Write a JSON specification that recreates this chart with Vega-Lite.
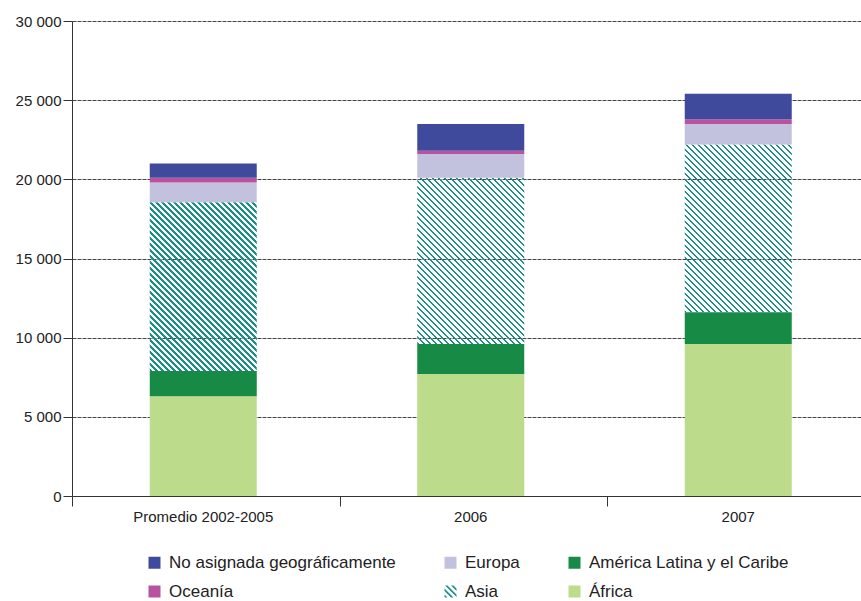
{
"$schema": "https://vega.github.io/schema/vega-lite/v6.json",
"width": 789,
"height": 475,
"autosize": {"type": "none"},
"padding": {"left": 72, "top": 21, "right": 0, "bottom": 105},
"background": "white",
"config": {"view": {"stroke": null}, "font": "Liberation Sans"},
"data": {"values": [
{"periodo": "Promedio 2002-2005", "region": "África", "valor": 6300},
{"periodo": "Promedio 2002-2005", "region": "América Latina y el Caribe", "valor": 1600},
{"periodo": "Promedio 2002-2005", "region": "Asia", "valor": 10650},
{"periodo": "Promedio 2002-2005", "region": "Europa", "valor": 1250},
{"periodo": "Promedio 2002-2005", "region": "Oceanía", "valor": 300},
{"periodo": "Promedio 2002-2005", "region": "No asignada geográficamente", "valor": 900},
{"periodo": "2006", "region": "África", "valor": 7700},
{"periodo": "2006", "region": "América Latina y el Caribe", "valor": 1900},
{"periodo": "2006", "region": "Asia", "valor": 10500},
{"periodo": "2006", "region": "Europa", "valor": 1500},
{"periodo": "2006", "region": "Oceanía", "valor": 200},
{"periodo": "2006", "region": "No asignada geográficamente", "valor": 1700},
{"periodo": "2007", "region": "África", "valor": 9600},
{"periodo": "2007", "region": "América Latina y el Caribe", "valor": 2000},
{"periodo": "2007", "region": "Asia", "valor": 10600},
{"periodo": "2007", "region": "Europa", "valor": 1300},
{"periodo": "2007", "region": "Oceanía", "valor": 300},
{"periodo": "2007", "region": "No asignada geográficamente", "valor": 1600}
]},
"transform": [{"calculate": "indexof(['África','América Latina y el Caribe','Asia','Europa','Oceanía','No asignada geográficamente'], datum.region)", "as": "orden"}],
"encoding": {
"x": {"field": "periodo", "type": "nominal", "sort": ["Promedio 2002-2005", "2006", "2007"],
 "scale": {"range": [0, 802.5], "paddingInner": 0, "paddingOuter": 0},
 "axis": {"title": null, "labelAngle": 0, "tickBand": "extent", "domainColor": "#333", "tickColor": "#333", "tickSize": 10, "labelFontSize": 15, "labelColor": "#222", "labelPadding": 3, "labelOffset": -3, "grid": false}},
"y": {"field": "valor", "type": "quantitative", "stack": "zero",
 "scale": {"domain": [0, 30000], "nice": false},
 "axis": {"title": null, "values": [0, 5000, 10000, 15000, 20000, 25000, 30000], "labelExpr": "replace(format(datum.value, ',d'), ',', ' ')", "grid": true, "gridColor": "#444", "gridDash": [4, 1], "tickSize": 9, "labelPadding": 2, "domainColor": "#333", "tickColor": "#333", "labelFontSize": 15, "labelColor": "#222"}},
"color": {"field": "region", "type": "nominal",
 "scale": {"domain": ["No asignada geográficamente", "Oceanía", "Europa", "Asia", "América Latina y el Caribe", "África"],
  "range": ["#3f4a9d", "#b9529f", "#c2c2df", "#1d8f8a", "#178a45", "#bcdb8b"]},
 "condition": [
 {"test": "datum.region === 'Asia' && datum.periodo === 'Promedio 2002-2005'", "value": {"gradient": "linear", "x1": 0, "y1": 1, "x2": 0.82094, "y2": -0.29375, "stops": [
{"offset":0,"color":"#1d8f8a"},{"offset":0.007843,"color":"#1d8f8a"},{"offset":0.007843,"color":"transparent"},{"offset":0.019608,"color":"transparent"},
{"offset":0.019608,"color":"#1d8f8a"},{"offset":0.027451,"color":"#1d8f8a"},{"offset":0.027451,"color":"transparent"},{"offset":0.039216,"color":"transparent"},
{"offset":0.039216,"color":"#1d8f8a"},{"offset":0.047059,"color":"#1d8f8a"},{"offset":0.047059,"color":"transparent"},{"offset":0.058824,"color":"transparent"},
{"offset":0.058824,"color":"#1d8f8a"},{"offset":0.066667,"color":"#1d8f8a"},{"offset":0.066667,"color":"transparent"},{"offset":0.078431,"color":"transparent"},
{"offset":0.078431,"color":"#1d8f8a"},{"offset":0.086275,"color":"#1d8f8a"},{"offset":0.086275,"color":"transparent"},{"offset":0.098039,"color":"transparent"},
{"offset":0.098039,"color":"#1d8f8a"},{"offset":0.105882,"color":"#1d8f8a"},{"offset":0.105882,"color":"transparent"},{"offset":0.117647,"color":"transparent"},
{"offset":0.117647,"color":"#1d8f8a"},{"offset":0.125490,"color":"#1d8f8a"},{"offset":0.125490,"color":"transparent"},{"offset":0.137255,"color":"transparent"},
{"offset":0.137255,"color":"#1d8f8a"},{"offset":0.145098,"color":"#1d8f8a"},{"offset":0.145098,"color":"transparent"},{"offset":0.156863,"color":"transparent"},
{"offset":0.156863,"color":"#1d8f8a"},{"offset":0.164706,"color":"#1d8f8a"},{"offset":0.164706,"color":"transparent"},{"offset":0.176471,"color":"transparent"},
{"offset":0.176471,"color":"#1d8f8a"},{"offset":0.184314,"color":"#1d8f8a"},{"offset":0.184314,"color":"transparent"},{"offset":0.196078,"color":"transparent"},
{"offset":0.196078,"color":"#1d8f8a"},{"offset":0.203922,"color":"#1d8f8a"},{"offset":0.203922,"color":"transparent"},{"offset":0.215686,"color":"transparent"},
{"offset":0.215686,"color":"#1d8f8a"},{"offset":0.223529,"color":"#1d8f8a"},{"offset":0.223529,"color":"transparent"},{"offset":0.235294,"color":"transparent"},
{"offset":0.235294,"color":"#1d8f8a"},{"offset":0.243137,"color":"#1d8f8a"},{"offset":0.243137,"color":"transparent"},{"offset":0.254902,"color":"transparent"},
{"offset":0.254902,"color":"#1d8f8a"},{"offset":0.262745,"color":"#1d8f8a"},{"offset":0.262745,"color":"transparent"},{"offset":0.274510,"color":"transparent"},
{"offset":0.274510,"color":"#1d8f8a"},{"offset":0.282353,"color":"#1d8f8a"},{"offset":0.282353,"color":"transparent"},{"offset":0.294118,"color":"transparent"},
{"offset":0.294118,"color":"#1d8f8a"},{"offset":0.301961,"color":"#1d8f8a"},{"offset":0.301961,"color":"transparent"},{"offset":0.313725,"color":"transparent"},
{"offset":0.313725,"color":"#1d8f8a"},{"offset":0.321569,"color":"#1d8f8a"},{"offset":0.321569,"color":"transparent"},{"offset":0.333333,"color":"transparent"},
{"offset":0.333333,"color":"#1d8f8a"},{"offset":0.341176,"color":"#1d8f8a"},{"offset":0.341176,"color":"transparent"},{"offset":0.352941,"color":"transparent"},
{"offset":0.352941,"color":"#1d8f8a"},{"offset":0.360784,"color":"#1d8f8a"},{"offset":0.360784,"color":"transparent"},{"offset":0.372549,"color":"transparent"},
{"offset":0.372549,"color":"#1d8f8a"},{"offset":0.380392,"color":"#1d8f8a"},{"offset":0.380392,"color":"transparent"},{"offset":0.392157,"color":"transparent"},
{"offset":0.392157,"color":"#1d8f8a"},{"offset":0.400000,"color":"#1d8f8a"},{"offset":0.400000,"color":"transparent"},{"offset":0.411765,"color":"transparent"},
{"offset":0.411765,"color":"#1d8f8a"},{"offset":0.419608,"color":"#1d8f8a"},{"offset":0.419608,"color":"transparent"},{"offset":0.431373,"color":"transparent"},
{"offset":0.431373,"color":"#1d8f8a"},{"offset":0.439216,"color":"#1d8f8a"},{"offset":0.439216,"color":"transparent"},{"offset":0.450980,"color":"transparent"},
{"offset":0.450980,"color":"#1d8f8a"},{"offset":0.458824,"color":"#1d8f8a"},{"offset":0.458824,"color":"transparent"},{"offset":0.470588,"color":"transparent"},
{"offset":0.470588,"color":"#1d8f8a"},{"offset":0.478431,"color":"#1d8f8a"},{"offset":0.478431,"color":"transparent"},{"offset":0.490196,"color":"transparent"},
{"offset":0.490196,"color":"#1d8f8a"},{"offset":0.498039,"color":"#1d8f8a"},{"offset":0.498039,"color":"transparent"},{"offset":0.509804,"color":"transparent"},
{"offset":0.509804,"color":"#1d8f8a"},{"offset":0.517647,"color":"#1d8f8a"},{"offset":0.517647,"color":"transparent"},{"offset":0.529412,"color":"transparent"},
{"offset":0.529412,"color":"#1d8f8a"},{"offset":0.537255,"color":"#1d8f8a"},{"offset":0.537255,"color":"transparent"},{"offset":0.549020,"color":"transparent"},
{"offset":0.549020,"color":"#1d8f8a"},{"offset":0.556863,"color":"#1d8f8a"},{"offset":0.556863,"color":"transparent"},{"offset":0.568627,"color":"transparent"},
{"offset":0.568627,"color":"#1d8f8a"},{"offset":0.576471,"color":"#1d8f8a"},{"offset":0.576471,"color":"transparent"},{"offset":0.588235,"color":"transparent"},
{"offset":0.588235,"color":"#1d8f8a"},{"offset":0.596078,"color":"#1d8f8a"},{"offset":0.596078,"color":"transparent"},{"offset":0.607843,"color":"transparent"},
{"offset":0.607843,"color":"#1d8f8a"},{"offset":0.615686,"color":"#1d8f8a"},{"offset":0.615686,"color":"transparent"},{"offset":0.627451,"color":"transparent"},
{"offset":0.627451,"color":"#1d8f8a"},{"offset":0.635294,"color":"#1d8f8a"},{"offset":0.635294,"color":"transparent"},{"offset":0.647059,"color":"transparent"},
{"offset":0.647059,"color":"#1d8f8a"},{"offset":0.654902,"color":"#1d8f8a"},{"offset":0.654902,"color":"transparent"},{"offset":0.666667,"color":"transparent"},
{"offset":0.666667,"color":"#1d8f8a"},{"offset":0.674510,"color":"#1d8f8a"},{"offset":0.674510,"color":"transparent"},{"offset":0.686275,"color":"transparent"},
{"offset":0.686275,"color":"#1d8f8a"},{"offset":0.694118,"color":"#1d8f8a"},{"offset":0.694118,"color":"transparent"},{"offset":0.705882,"color":"transparent"},
{"offset":0.705882,"color":"#1d8f8a"},{"offset":0.713725,"color":"#1d8f8a"},{"offset":0.713725,"color":"transparent"},{"offset":0.725490,"color":"transparent"},
{"offset":0.725490,"color":"#1d8f8a"},{"offset":0.733333,"color":"#1d8f8a"},{"offset":0.733333,"color":"transparent"},{"offset":0.745098,"color":"transparent"},
{"offset":0.745098,"color":"#1d8f8a"},{"offset":0.752941,"color":"#1d8f8a"},{"offset":0.752941,"color":"transparent"},{"offset":0.764706,"color":"transparent"},
{"offset":0.764706,"color":"#1d8f8a"},{"offset":0.772549,"color":"#1d8f8a"},{"offset":0.772549,"color":"transparent"},{"offset":0.784314,"color":"transparent"},
{"offset":0.784314,"color":"#1d8f8a"},{"offset":0.792157,"color":"#1d8f8a"},{"offset":0.792157,"color":"transparent"},{"offset":0.803922,"color":"transparent"},
{"offset":0.803922,"color":"#1d8f8a"},{"offset":0.811765,"color":"#1d8f8a"},{"offset":0.811765,"color":"transparent"},{"offset":0.823529,"color":"transparent"},
{"offset":0.823529,"color":"#1d8f8a"},{"offset":0.831373,"color":"#1d8f8a"},{"offset":0.831373,"color":"transparent"},{"offset":0.843137,"color":"transparent"},
{"offset":0.843137,"color":"#1d8f8a"},{"offset":0.850980,"color":"#1d8f8a"},{"offset":0.850980,"color":"transparent"},{"offset":0.862745,"color":"transparent"},
{"offset":0.862745,"color":"#1d8f8a"},{"offset":0.870588,"color":"#1d8f8a"},{"offset":0.870588,"color":"transparent"},{"offset":0.882353,"color":"transparent"},
{"offset":0.882353,"color":"#1d8f8a"},{"offset":0.890196,"color":"#1d8f8a"},{"offset":0.890196,"color":"transparent"},{"offset":0.901961,"color":"transparent"},
{"offset":0.901961,"color":"#1d8f8a"},{"offset":0.909804,"color":"#1d8f8a"},{"offset":0.909804,"color":"transparent"},{"offset":1,"color":"transparent"}
 ]}},
 {"test": "datum.region === 'Asia' && datum.periodo === '2006'", "value": {"gradient": "linear", "x1": 0, "y1": 1, "x2": 0.83765, "y2": -0.30148, "stops": [
{"offset":0,"color":"#1d8f8a"},{"offset":0.007843,"color":"#1d8f8a"},{"offset":0.007843,"color":"transparent"},{"offset":0.019608,"color":"transparent"},
{"offset":0.019608,"color":"#1d8f8a"},{"offset":0.027451,"color":"#1d8f8a"},{"offset":0.027451,"color":"transparent"},{"offset":0.039216,"color":"transparent"},
{"offset":0.039216,"color":"#1d8f8a"},{"offset":0.047059,"color":"#1d8f8a"},{"offset":0.047059,"color":"transparent"},{"offset":0.058824,"color":"transparent"},
{"offset":0.058824,"color":"#1d8f8a"},{"offset":0.066667,"color":"#1d8f8a"},{"offset":0.066667,"color":"transparent"},{"offset":0.078431,"color":"transparent"},
{"offset":0.078431,"color":"#1d8f8a"},{"offset":0.086275,"color":"#1d8f8a"},{"offset":0.086275,"color":"transparent"},{"offset":0.098039,"color":"transparent"},
{"offset":0.098039,"color":"#1d8f8a"},{"offset":0.105882,"color":"#1d8f8a"},{"offset":0.105882,"color":"transparent"},{"offset":0.117647,"color":"transparent"},
{"offset":0.117647,"color":"#1d8f8a"},{"offset":0.125490,"color":"#1d8f8a"},{"offset":0.125490,"color":"transparent"},{"offset":0.137255,"color":"transparent"},
{"offset":0.137255,"color":"#1d8f8a"},{"offset":0.145098,"color":"#1d8f8a"},{"offset":0.145098,"color":"transparent"},{"offset":0.156863,"color":"transparent"},
{"offset":0.156863,"color":"#1d8f8a"},{"offset":0.164706,"color":"#1d8f8a"},{"offset":0.164706,"color":"transparent"},{"offset":0.176471,"color":"transparent"},
{"offset":0.176471,"color":"#1d8f8a"},{"offset":0.184314,"color":"#1d8f8a"},{"offset":0.184314,"color":"transparent"},{"offset":0.196078,"color":"transparent"},
{"offset":0.196078,"color":"#1d8f8a"},{"offset":0.203922,"color":"#1d8f8a"},{"offset":0.203922,"color":"transparent"},{"offset":0.215686,"color":"transparent"},
{"offset":0.215686,"color":"#1d8f8a"},{"offset":0.223529,"color":"#1d8f8a"},{"offset":0.223529,"color":"transparent"},{"offset":0.235294,"color":"transparent"},
{"offset":0.235294,"color":"#1d8f8a"},{"offset":0.243137,"color":"#1d8f8a"},{"offset":0.243137,"color":"transparent"},{"offset":0.254902,"color":"transparent"},
{"offset":0.254902,"color":"#1d8f8a"},{"offset":0.262745,"color":"#1d8f8a"},{"offset":0.262745,"color":"transparent"},{"offset":0.274510,"color":"transparent"},
{"offset":0.274510,"color":"#1d8f8a"},{"offset":0.282353,"color":"#1d8f8a"},{"offset":0.282353,"color":"transparent"},{"offset":0.294118,"color":"transparent"},
{"offset":0.294118,"color":"#1d8f8a"},{"offset":0.301961,"color":"#1d8f8a"},{"offset":0.301961,"color":"transparent"},{"offset":0.313725,"color":"transparent"},
{"offset":0.313725,"color":"#1d8f8a"},{"offset":0.321569,"color":"#1d8f8a"},{"offset":0.321569,"color":"transparent"},{"offset":0.333333,"color":"transparent"},
{"offset":0.333333,"color":"#1d8f8a"},{"offset":0.341176,"color":"#1d8f8a"},{"offset":0.341176,"color":"transparent"},{"offset":0.352941,"color":"transparent"},
{"offset":0.352941,"color":"#1d8f8a"},{"offset":0.360784,"color":"#1d8f8a"},{"offset":0.360784,"color":"transparent"},{"offset":0.372549,"color":"transparent"},
{"offset":0.372549,"color":"#1d8f8a"},{"offset":0.380392,"color":"#1d8f8a"},{"offset":0.380392,"color":"transparent"},{"offset":0.392157,"color":"transparent"},
{"offset":0.392157,"color":"#1d8f8a"},{"offset":0.400000,"color":"#1d8f8a"},{"offset":0.400000,"color":"transparent"},{"offset":0.411765,"color":"transparent"},
{"offset":0.411765,"color":"#1d8f8a"},{"offset":0.419608,"color":"#1d8f8a"},{"offset":0.419608,"color":"transparent"},{"offset":0.431373,"color":"transparent"},
{"offset":0.431373,"color":"#1d8f8a"},{"offset":0.439216,"color":"#1d8f8a"},{"offset":0.439216,"color":"transparent"},{"offset":0.450980,"color":"transparent"},
{"offset":0.450980,"color":"#1d8f8a"},{"offset":0.458824,"color":"#1d8f8a"},{"offset":0.458824,"color":"transparent"},{"offset":0.470588,"color":"transparent"},
{"offset":0.470588,"color":"#1d8f8a"},{"offset":0.478431,"color":"#1d8f8a"},{"offset":0.478431,"color":"transparent"},{"offset":0.490196,"color":"transparent"},
{"offset":0.490196,"color":"#1d8f8a"},{"offset":0.498039,"color":"#1d8f8a"},{"offset":0.498039,"color":"transparent"},{"offset":0.509804,"color":"transparent"},
{"offset":0.509804,"color":"#1d8f8a"},{"offset":0.517647,"color":"#1d8f8a"},{"offset":0.517647,"color":"transparent"},{"offset":0.529412,"color":"transparent"},
{"offset":0.529412,"color":"#1d8f8a"},{"offset":0.537255,"color":"#1d8f8a"},{"offset":0.537255,"color":"transparent"},{"offset":0.549020,"color":"transparent"},
{"offset":0.549020,"color":"#1d8f8a"},{"offset":0.556863,"color":"#1d8f8a"},{"offset":0.556863,"color":"transparent"},{"offset":0.568627,"color":"transparent"},
{"offset":0.568627,"color":"#1d8f8a"},{"offset":0.576471,"color":"#1d8f8a"},{"offset":0.576471,"color":"transparent"},{"offset":0.588235,"color":"transparent"},
{"offset":0.588235,"color":"#1d8f8a"},{"offset":0.596078,"color":"#1d8f8a"},{"offset":0.596078,"color":"transparent"},{"offset":0.607843,"color":"transparent"},
{"offset":0.607843,"color":"#1d8f8a"},{"offset":0.615686,"color":"#1d8f8a"},{"offset":0.615686,"color":"transparent"},{"offset":0.627451,"color":"transparent"},
{"offset":0.627451,"color":"#1d8f8a"},{"offset":0.635294,"color":"#1d8f8a"},{"offset":0.635294,"color":"transparent"},{"offset":0.647059,"color":"transparent"},
{"offset":0.647059,"color":"#1d8f8a"},{"offset":0.654902,"color":"#1d8f8a"},{"offset":0.654902,"color":"transparent"},{"offset":0.666667,"color":"transparent"},
{"offset":0.666667,"color":"#1d8f8a"},{"offset":0.674510,"color":"#1d8f8a"},{"offset":0.674510,"color":"transparent"},{"offset":0.686275,"color":"transparent"},
{"offset":0.686275,"color":"#1d8f8a"},{"offset":0.694118,"color":"#1d8f8a"},{"offset":0.694118,"color":"transparent"},{"offset":0.705882,"color":"transparent"},
{"offset":0.705882,"color":"#1d8f8a"},{"offset":0.713725,"color":"#1d8f8a"},{"offset":0.713725,"color":"transparent"},{"offset":0.725490,"color":"transparent"},
{"offset":0.725490,"color":"#1d8f8a"},{"offset":0.733333,"color":"#1d8f8a"},{"offset":0.733333,"color":"transparent"},{"offset":0.745098,"color":"transparent"},
{"offset":0.745098,"color":"#1d8f8a"},{"offset":0.752941,"color":"#1d8f8a"},{"offset":0.752941,"color":"transparent"},{"offset":0.764706,"color":"transparent"},
{"offset":0.764706,"color":"#1d8f8a"},{"offset":0.772549,"color":"#1d8f8a"},{"offset":0.772549,"color":"transparent"},{"offset":0.784314,"color":"transparent"},
{"offset":0.784314,"color":"#1d8f8a"},{"offset":0.792157,"color":"#1d8f8a"},{"offset":0.792157,"color":"transparent"},{"offset":0.803922,"color":"transparent"},
{"offset":0.803922,"color":"#1d8f8a"},{"offset":0.811765,"color":"#1d8f8a"},{"offset":0.811765,"color":"transparent"},{"offset":0.823529,"color":"transparent"},
{"offset":0.823529,"color":"#1d8f8a"},{"offset":0.831373,"color":"#1d8f8a"},{"offset":0.831373,"color":"transparent"},{"offset":0.843137,"color":"transparent"},
{"offset":0.843137,"color":"#1d8f8a"},{"offset":0.850980,"color":"#1d8f8a"},{"offset":0.850980,"color":"transparent"},{"offset":0.862745,"color":"transparent"},
{"offset":0.862745,"color":"#1d8f8a"},{"offset":0.870588,"color":"#1d8f8a"},{"offset":0.870588,"color":"transparent"},{"offset":0.882353,"color":"transparent"},
{"offset":0.882353,"color":"#1d8f8a"},{"offset":0.890196,"color":"#1d8f8a"},{"offset":0.890196,"color":"transparent"},{"offset":0.901961,"color":"transparent"},
{"offset":0.901961,"color":"#1d8f8a"},{"offset":0.909804,"color":"#1d8f8a"},{"offset":0.909804,"color":"transparent"},{"offset":1,"color":"transparent"}
 ]}},
 {"test": "datum.region === 'Asia' && datum.periodo === '2007'", "value": {"gradient": "linear", "x1": 0, "y1": 1, "x2": 0.82646, "y2": -0.29634, "stops": [
{"offset":0,"color":"#1d8f8a"},{"offset":0.007843,"color":"#1d8f8a"},{"offset":0.007843,"color":"transparent"},{"offset":0.019608,"color":"transparent"},
{"offset":0.019608,"color":"#1d8f8a"},{"offset":0.027451,"color":"#1d8f8a"},{"offset":0.027451,"color":"transparent"},{"offset":0.039216,"color":"transparent"},
{"offset":0.039216,"color":"#1d8f8a"},{"offset":0.047059,"color":"#1d8f8a"},{"offset":0.047059,"color":"transparent"},{"offset":0.058824,"color":"transparent"},
{"offset":0.058824,"color":"#1d8f8a"},{"offset":0.066667,"color":"#1d8f8a"},{"offset":0.066667,"color":"transparent"},{"offset":0.078431,"color":"transparent"},
{"offset":0.078431,"color":"#1d8f8a"},{"offset":0.086275,"color":"#1d8f8a"},{"offset":0.086275,"color":"transparent"},{"offset":0.098039,"color":"transparent"},
{"offset":0.098039,"color":"#1d8f8a"},{"offset":0.105882,"color":"#1d8f8a"},{"offset":0.105882,"color":"transparent"},{"offset":0.117647,"color":"transparent"},
{"offset":0.117647,"color":"#1d8f8a"},{"offset":0.125490,"color":"#1d8f8a"},{"offset":0.125490,"color":"transparent"},{"offset":0.137255,"color":"transparent"},
{"offset":0.137255,"color":"#1d8f8a"},{"offset":0.145098,"color":"#1d8f8a"},{"offset":0.145098,"color":"transparent"},{"offset":0.156863,"color":"transparent"},
{"offset":0.156863,"color":"#1d8f8a"},{"offset":0.164706,"color":"#1d8f8a"},{"offset":0.164706,"color":"transparent"},{"offset":0.176471,"color":"transparent"},
{"offset":0.176471,"color":"#1d8f8a"},{"offset":0.184314,"color":"#1d8f8a"},{"offset":0.184314,"color":"transparent"},{"offset":0.196078,"color":"transparent"},
{"offset":0.196078,"color":"#1d8f8a"},{"offset":0.203922,"color":"#1d8f8a"},{"offset":0.203922,"color":"transparent"},{"offset":0.215686,"color":"transparent"},
{"offset":0.215686,"color":"#1d8f8a"},{"offset":0.223529,"color":"#1d8f8a"},{"offset":0.223529,"color":"transparent"},{"offset":0.235294,"color":"transparent"},
{"offset":0.235294,"color":"#1d8f8a"},{"offset":0.243137,"color":"#1d8f8a"},{"offset":0.243137,"color":"transparent"},{"offset":0.254902,"color":"transparent"},
{"offset":0.254902,"color":"#1d8f8a"},{"offset":0.262745,"color":"#1d8f8a"},{"offset":0.262745,"color":"transparent"},{"offset":0.274510,"color":"transparent"},
{"offset":0.274510,"color":"#1d8f8a"},{"offset":0.282353,"color":"#1d8f8a"},{"offset":0.282353,"color":"transparent"},{"offset":0.294118,"color":"transparent"},
{"offset":0.294118,"color":"#1d8f8a"},{"offset":0.301961,"color":"#1d8f8a"},{"offset":0.301961,"color":"transparent"},{"offset":0.313725,"color":"transparent"},
{"offset":0.313725,"color":"#1d8f8a"},{"offset":0.321569,"color":"#1d8f8a"},{"offset":0.321569,"color":"transparent"},{"offset":0.333333,"color":"transparent"},
{"offset":0.333333,"color":"#1d8f8a"},{"offset":0.341176,"color":"#1d8f8a"},{"offset":0.341176,"color":"transparent"},{"offset":0.352941,"color":"transparent"},
{"offset":0.352941,"color":"#1d8f8a"},{"offset":0.360784,"color":"#1d8f8a"},{"offset":0.360784,"color":"transparent"},{"offset":0.372549,"color":"transparent"},
{"offset":0.372549,"color":"#1d8f8a"},{"offset":0.380392,"color":"#1d8f8a"},{"offset":0.380392,"color":"transparent"},{"offset":0.392157,"color":"transparent"},
{"offset":0.392157,"color":"#1d8f8a"},{"offset":0.400000,"color":"#1d8f8a"},{"offset":0.400000,"color":"transparent"},{"offset":0.411765,"color":"transparent"},
{"offset":0.411765,"color":"#1d8f8a"},{"offset":0.419608,"color":"#1d8f8a"},{"offset":0.419608,"color":"transparent"},{"offset":0.431373,"color":"transparent"},
{"offset":0.431373,"color":"#1d8f8a"},{"offset":0.439216,"color":"#1d8f8a"},{"offset":0.439216,"color":"transparent"},{"offset":0.450980,"color":"transparent"},
{"offset":0.450980,"color":"#1d8f8a"},{"offset":0.458824,"color":"#1d8f8a"},{"offset":0.458824,"color":"transparent"},{"offset":0.470588,"color":"transparent"},
{"offset":0.470588,"color":"#1d8f8a"},{"offset":0.478431,"color":"#1d8f8a"},{"offset":0.478431,"color":"transparent"},{"offset":0.490196,"color":"transparent"},
{"offset":0.490196,"color":"#1d8f8a"},{"offset":0.498039,"color":"#1d8f8a"},{"offset":0.498039,"color":"transparent"},{"offset":0.509804,"color":"transparent"},
{"offset":0.509804,"color":"#1d8f8a"},{"offset":0.517647,"color":"#1d8f8a"},{"offset":0.517647,"color":"transparent"},{"offset":0.529412,"color":"transparent"},
{"offset":0.529412,"color":"#1d8f8a"},{"offset":0.537255,"color":"#1d8f8a"},{"offset":0.537255,"color":"transparent"},{"offset":0.549020,"color":"transparent"},
{"offset":0.549020,"color":"#1d8f8a"},{"offset":0.556863,"color":"#1d8f8a"},{"offset":0.556863,"color":"transparent"},{"offset":0.568627,"color":"transparent"},
{"offset":0.568627,"color":"#1d8f8a"},{"offset":0.576471,"color":"#1d8f8a"},{"offset":0.576471,"color":"transparent"},{"offset":0.588235,"color":"transparent"},
{"offset":0.588235,"color":"#1d8f8a"},{"offset":0.596078,"color":"#1d8f8a"},{"offset":0.596078,"color":"transparent"},{"offset":0.607843,"color":"transparent"},
{"offset":0.607843,"color":"#1d8f8a"},{"offset":0.615686,"color":"#1d8f8a"},{"offset":0.615686,"color":"transparent"},{"offset":0.627451,"color":"transparent"},
{"offset":0.627451,"color":"#1d8f8a"},{"offset":0.635294,"color":"#1d8f8a"},{"offset":0.635294,"color":"transparent"},{"offset":0.647059,"color":"transparent"},
{"offset":0.647059,"color":"#1d8f8a"},{"offset":0.654902,"color":"#1d8f8a"},{"offset":0.654902,"color":"transparent"},{"offset":0.666667,"color":"transparent"},
{"offset":0.666667,"color":"#1d8f8a"},{"offset":0.674510,"color":"#1d8f8a"},{"offset":0.674510,"color":"transparent"},{"offset":0.686275,"color":"transparent"},
{"offset":0.686275,"color":"#1d8f8a"},{"offset":0.694118,"color":"#1d8f8a"},{"offset":0.694118,"color":"transparent"},{"offset":0.705882,"color":"transparent"},
{"offset":0.705882,"color":"#1d8f8a"},{"offset":0.713725,"color":"#1d8f8a"},{"offset":0.713725,"color":"transparent"},{"offset":0.725490,"color":"transparent"},
{"offset":0.725490,"color":"#1d8f8a"},{"offset":0.733333,"color":"#1d8f8a"},{"offset":0.733333,"color":"transparent"},{"offset":0.745098,"color":"transparent"},
{"offset":0.745098,"color":"#1d8f8a"},{"offset":0.752941,"color":"#1d8f8a"},{"offset":0.752941,"color":"transparent"},{"offset":0.764706,"color":"transparent"},
{"offset":0.764706,"color":"#1d8f8a"},{"offset":0.772549,"color":"#1d8f8a"},{"offset":0.772549,"color":"transparent"},{"offset":0.784314,"color":"transparent"},
{"offset":0.784314,"color":"#1d8f8a"},{"offset":0.792157,"color":"#1d8f8a"},{"offset":0.792157,"color":"transparent"},{"offset":0.803922,"color":"transparent"},
{"offset":0.803922,"color":"#1d8f8a"},{"offset":0.811765,"color":"#1d8f8a"},{"offset":0.811765,"color":"transparent"},{"offset":0.823529,"color":"transparent"},
{"offset":0.823529,"color":"#1d8f8a"},{"offset":0.831373,"color":"#1d8f8a"},{"offset":0.831373,"color":"transparent"},{"offset":0.843137,"color":"transparent"},
{"offset":0.843137,"color":"#1d8f8a"},{"offset":0.850980,"color":"#1d8f8a"},{"offset":0.850980,"color":"transparent"},{"offset":0.862745,"color":"transparent"},
{"offset":0.862745,"color":"#1d8f8a"},{"offset":0.870588,"color":"#1d8f8a"},{"offset":0.870588,"color":"transparent"},{"offset":0.882353,"color":"transparent"},
{"offset":0.882353,"color":"#1d8f8a"},{"offset":0.890196,"color":"#1d8f8a"},{"offset":0.890196,"color":"transparent"},{"offset":0.901961,"color":"transparent"},
{"offset":0.901961,"color":"#1d8f8a"},{"offset":0.909804,"color":"#1d8f8a"},{"offset":0.909804,"color":"transparent"},{"offset":1,"color":"transparent"}
 ]}}
 ],
 "legend": {"title": null, "orient": "none", "legendX": 74, "legendY": 533, "columns": 3, "columnPadding": 46, "rowPadding": 11, "symbolType": "square", "symbolSize": 144, "symbolStrokeWidth": 0, "symbolOpacity": 1, "labelFontSize": 17, "labelColor": "#222", "labelOffset": 6, "labelLimit": 400, "padding": 0}
},
"order": {"field": "orden", "type": "quantitative"}
},
"layer": [
{"mark": {"type": "bar", "width": {"band": 0.4}, "xOffset": -2.5}},
{"transform": [{"filter": "false"}],
 "mark": {"type": "point", "filled": true, "opacity": 1},
 "encoding": {"shape": {"field": "region", "type": "nominal",
  "scale": {"domain": ["No asignada geográficamente", "Oceanía", "Europa", "Asia", "América Latina y el Caribe", "África"],
   "range": ["square", "square", "square", "M0.5,-1L1,-0.5L1,-0.1L0.1,-1Z M-0.5,-1L1,0.5L1,0.9L-0.9,-1Z M-1,-0.5L0.5,1L0.1,1L-1,-0.1Z M-1,0.5L-0.5,1L-0.9,1L-1,0.9Z", "square", "square"]},
  "legend": {"title": null, "orient": "none", "legendX": 74, "legendY": 533, "columns": 3, "columnPadding": 46, "rowPadding": 11, "symbolType": "square", "symbolSize": 144, "symbolStrokeWidth": 0, "symbolOpacity": 1, "labelFontSize": 17, "labelColor": "#222", "labelOffset": 6, "labelLimit": 400, "padding": 0}}}}
]
}
